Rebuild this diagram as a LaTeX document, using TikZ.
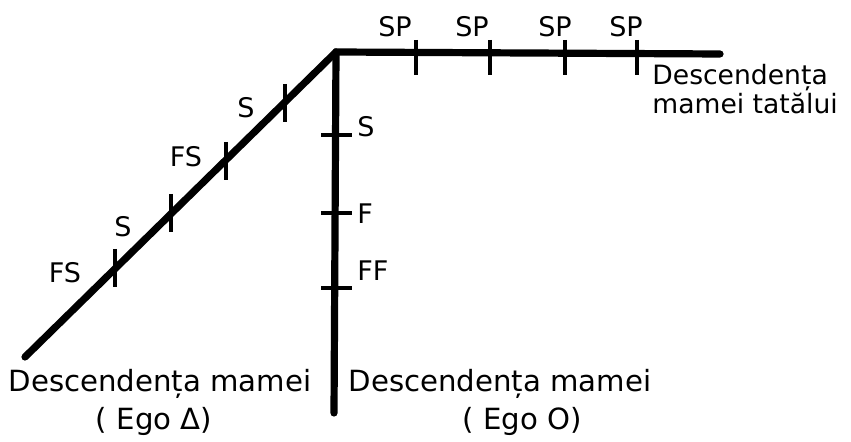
\documentclass[tikz,border=0pt]{standalone}
\usepackage{fontspec}
\setmainfont{DejaVu Sans}
\usepackage{tikz}
\usetikzlibrary{positioning}
\tikzset{
  branch/.style={line width=3.6pt, line cap=round, line join=miter},
  tick/.style={line width=2pt},
  kin/.style={font=\fontsize{13.5}{15}\selectfont, inner sep=1pt},
  caption/.style={font=\fontsize{14.6}{12.4}\selectfont, inner sep=0pt}
}

\begin{document}
\begin{tikzpicture}[x=0.5pt, y=-0.5pt]
  \useasboundingbox (0,0) rectangle (851,442);

  % main branches
  \coordinate (apex) at (336,52);
  \coordinate (fatherEnd) at (720,54);
  \coordinate (egoMaleEnd) at (25,357);
  \coordinate (egoFemaleEnd) at (334,413);
  \draw[branch] (egoMaleEnd) -- (apex) -- (fatherEnd);
  \draw[branch] (apex) -- (egoFemaleEnd);

  % ticks on the diagonal line
  \foreach \x/\y/\name in {115/268/dA, 171/213/dB, 226/161/dC, 285/103/dD}
    \draw[tick] (\x,\y-19) -- (\x,\y+19) coordinate (\name);
  % ticks on the vertical line
  \foreach \y/\name in {135/vA, 213/vB, 288/vC}
    \draw[tick] (321,\y) -- (352,\y) coordinate (\name);
  % ticks on the horizontal line
  \foreach \x/\name in {416/hA, 490/hB, 565/hC, 637/hD}
    \draw[tick] (\x,40) -- (\x,75) coordinate (\name);

  % labels on the diagonal line
  \node[kin] (fsLow) at (65,273) {FS};
  \node[kin] (sLow) at (123,227) {S};
  \node[kin] (fsHigh) at (186,157) {FS};
  \node[kin] (sHigh) at (246,108) {S};

  % labels on the vertical line
  \node[kin, anchor=west] (sVert) at (355,127) {S};
  \node[kin, anchor=west] (fVert) at (355,214) {F};
  \node[kin, anchor=west] (ffVert) at (355,271) {FF};

  % labels on the horizontal line
  \node[kin] (spA) at (395,27) {SP};
  \node[kin] (spB) at (472,27) {SP};
  \node[kin] (spC) at (555,27) {SP};
  \node[kin] (spD) at (626,27) {SP};

  % captions
  \node[caption, font=\fontsize{13.3}{12.2}\selectfont, anchor=north west, align=left] (fatherMother) at (652,64) {Descendența\\mamei tatălui};
  \node[caption, anchor=base] (egoMale) at (160,392) {Descendența mamei};
  \node[caption, anchor=base] (egoMaleSign) at (154,430) {( Ego Δ)};
  \node[caption, anchor=base] (egoFemale) at (500,392) {Descendența mamei};
  \node[caption, anchor=base] (egoFemaleSign) at (522,430) {( Ego O)};
\end{tikzpicture}
\end{document}
